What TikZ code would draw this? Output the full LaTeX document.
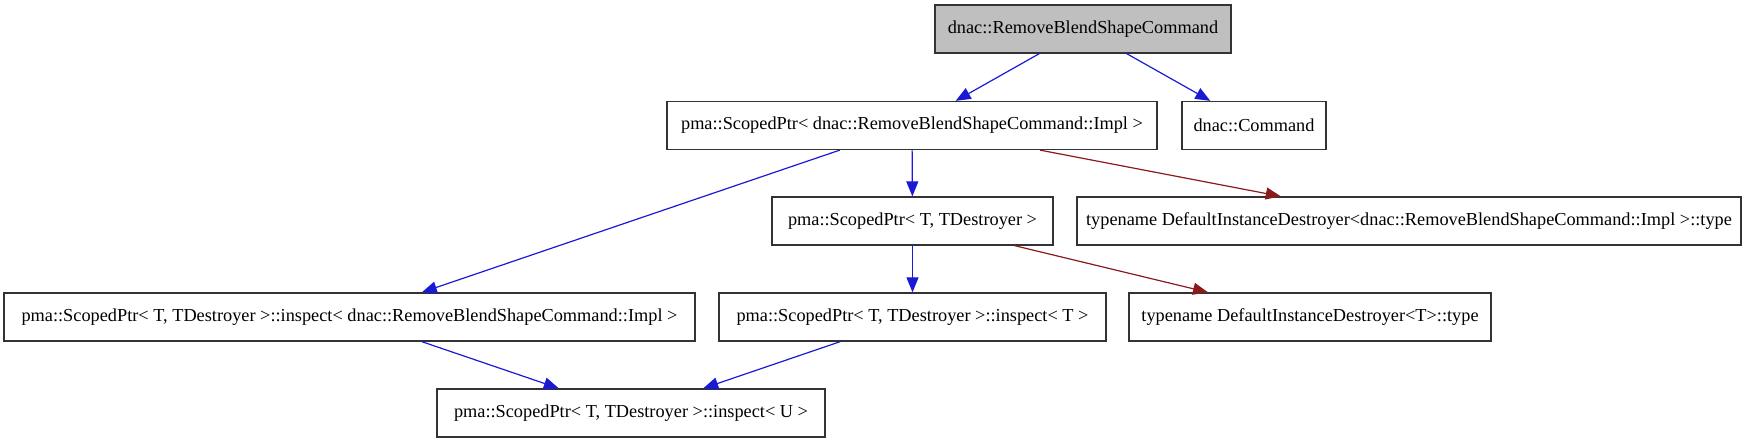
\documentclass[tikz,border=0pt]{standalone}
\usepackage{fontspec}
\setmainfont{Liberation Serif}
\usepackage {tikz}
\usetikzlibrary {positioning,arrows.meta}
\definecolor{edgeblue}{RGB}{26,26,214}
\definecolor{edgered}{RGB}{139,26,26}
\definecolor{topgray}{RGB}{191,191,191}

\begin{document}
\begin{tikzpicture}[x=1pt, y=-1pt,
box/.style={rectangle, draw, line width=1.3pt, color=black!80, text=black, font=\fontsize{18.3}{22}\selectfont, minimum height=48pt, inner sep=0pt},
uses/.style={line width=1.2pt, color=edgeblue, -{Triangle[length=15pt, width=12pt]}},
tmpl/.style={line width=1.2pt, color=edgered, -{Triangle[length=15pt, width=12pt]}}]

\useasboundingbox (0,0) rectangle (1751,443);

\node[box, fill=topgray, minimum width=296pt] (cmd)  at (1083.0,029.0) {dnac::RemoveBlendShapeCommand};
\node[box, minimum width=490pt] (ptrimpl)  at (912.0,125.5) {pma::ScopedPtr< dnac::RemoveBlendShapeCommand::Impl >};
\node[box, minimum width=144pt] (base)     at (1254.0,125.5) {dnac::Command};
\node[box, minimum width=281pt] (ptr)      at (912.5,221.0) {pma::ScopedPtr< T, TDestroyer >};
\node[box, minimum width=664pt] (dtorimpl) at (1409.0,221.0) {typename DefaultInstanceDestroyer<dnac::RemoveBlendShapeCommand::Impl >::type};
\node[box, minimum width=691pt] (inspimpl) at (349.5,317.0) {pma::ScopedPtr< T, TDestroyer >::inspect< dnac::RemoveBlendShapeCommand::Impl >};
\node[box, minimum width=387pt] (inspt)    at (912.5,317.0) {pma::ScopedPtr< T, TDestroyer >::inspect< T >};
\node[box, minimum width=362pt] (dtort)    at (1310.0,317.0) {typename DefaultInstanceDestroyer<T>::type};
\node[box, minimum width=388pt] (inspu)    at (631.0,413.0) {pma::ScopedPtr< T, TDestroyer >::inspect< U >};

\draw[uses] (cmd) -- (ptrimpl);
\draw[uses] (cmd) -- (base);
\draw[uses] (ptrimpl) -- (inspimpl);
\draw[uses] (ptrimpl) -- (ptr);
\draw[tmpl] (ptrimpl) -- (dtorimpl);
\draw[uses] (ptr) -- (inspt);
\draw[tmpl] (ptr) -- (dtort);
\draw[uses] (inspimpl) -- (inspu);
\draw[uses] (inspt) -- (inspu);

\end{tikzpicture}
\end{document}
